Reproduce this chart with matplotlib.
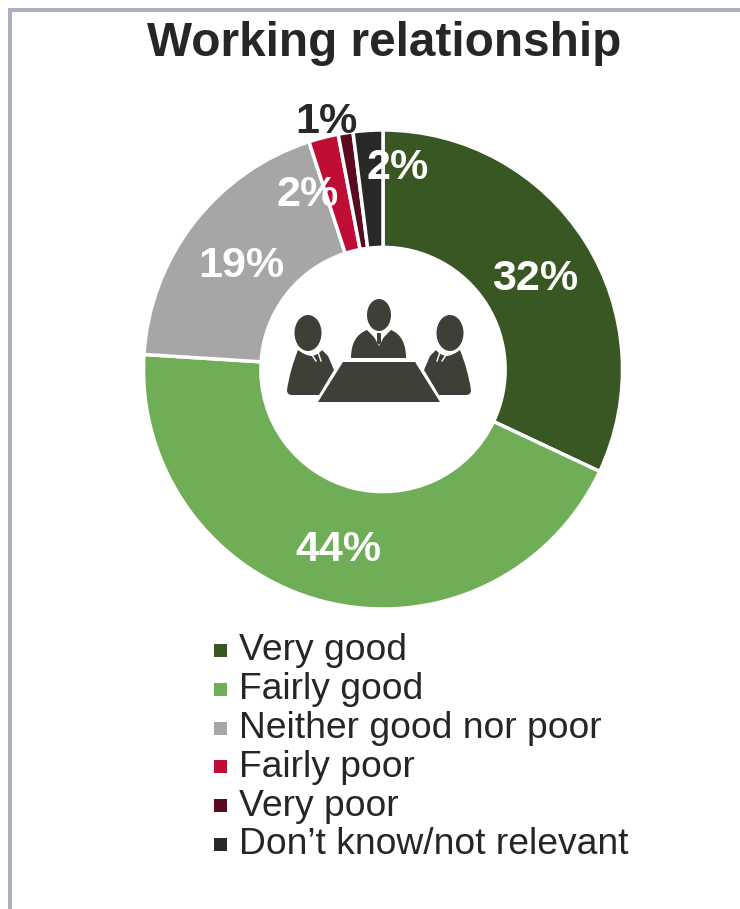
import matplotlib
matplotlib.use('Agg')
import matplotlib.pyplot as plt
from matplotlib.patches import Ellipse, PathPatch, Polygon, Rectangle
from matplotlib.path import Path

plt.rcParams['font.family'] = ['Liberation Sans', 'DejaVu Sans']

categories = ['Very good', 'Fairly good', 'Neither good nor poor', 'Fairly poor', 'Very poor', 'Don\u2019t know/not relevant']
values = [32, 44, 19, 2, 1, 2]
colors = ['#385723', '#70ad57', '#a6a6a6', '#c00d35', '#5c0a20', '#282826']
label_colors = ['white', 'white', 'white', 'white', '#282826', 'white']
label_xy = [(535, 279), (338, 550), (241, 266), (308, 195), (326, 122), (398, 168)]

W, H = 740, 909
CX, CY, R = 383, 369.5, 239.5
ICON = '#3f3f38'
M = Path.MOVETO
L = Path.LINETO
C = Path.CURVE3

fig = plt.figure(figsize=(W / 100, H / 100), dpi=100, facecolor='white')

# donut in its own axes, then a full-figure pixel axes for the rest
pie_ax = fig.add_axes([(CX - R) / W, 1 - (CY + R) / H, 2 * R / W, 2 * R / H])
pie_ax.pie(values, colors=colors, startangle=90, counterclock=False, radius=1,
           wedgeprops=dict(width=0.49, edgecolor='white', linewidth=2.5))
pie_ax.set_xlim(-1, 1)
pie_ax.set_ylim(-1, 1)

ax = fig.add_axes([0, 0, 1, 1])
ax.set_xlim(0, W)
ax.set_ylim(H, 0)
ax.axis('off')

# frame on the top and left edge
ax.add_patch(Rectangle((8, 8), W - 8, 3.5, color='#a7b0bc', lw=0))
ax.add_patch(Rectangle((8, 8), 3.5, H - 8, color='#a7b0bc', lw=0))

ax.text(384, 44, 'Working relationship', fontsize=34.4, fontweight='bold',
        color='#262626', ha='center', va='center')

for v, (x, y), c in zip(values, label_xy, label_colors):
    ax.text(x, y, f'{v}%', fontsize=31, fontweight='bold', color=c, ha='center', va='center')

# legend
for i, (name, c) in enumerate(zip(categories, colors)):
    y = 651 + i * 38.8
    ax.add_patch(Rectangle((214, y - 7), 13, 13, color=c, lw=0))
    ax.text(239, y, name, fontsize=26.8, color='#262626', ha='left', va='center')


# meeting icon
def side_person(m):
    fx = lambda x: x if m == 1 else 2 * 379 - x
    ax.add_patch(Ellipse((fx(308), 333), 27, 36, color=ICON, lw=0, zorder=3))
    verts = [(298, 350), (306, 356), (312, 356), (318, 355), (322, 350), (328, 356), (334, 370), (319, 395),
             (292, 395), (287, 395), (287, 390), (290, 370), (298, 350)]
    codes = [M, C, C, C, C, L, L, L, L, C, C, C, C]
    ax.add_patch(PathPatch(Path([(fx(x), y) for x, y in verts], codes), color=ICON, lw=0, zorder=3))
    # shirt collar either side of the tie
    ax.plot([fx(312), fx(316)], [355, 361], color='white', lw=1, zorder=4)
    ax.plot([fx(318), fx(321)], [352, 361], color='white', lw=1, zorder=4)


side_person(1)
side_person(-1)

ax.add_patch(Ellipse((379, 315), 24, 32, color=ICON, lw=0, zorder=3))
body_v = [(351, 358), (351, 336), (367, 330), (379, 342), (391, 330), (406, 336), (406, 358), (351, 358)]
body_c = [M, C, C, L, L, C, C, Path.CLOSEPOLY]
ax.add_patch(PathPatch(Path(body_v, body_c), color=ICON, lw=0, zorder=3))
ax.plot([372, 379, 386], [331, 345, 331], color='white', lw=1, zorder=4)
ax.add_patch(Polygon([(377, 333), (381, 333), (381, 343), (379, 345), (377, 343)], color=ICON, lw=0, zorder=5))

ax.add_patch(Polygon([(343, 362), (415, 362), (440, 402), (318, 402)], color=ICON, lw=0, zorder=3))

fig.savefig('out.png', dpi=100)
